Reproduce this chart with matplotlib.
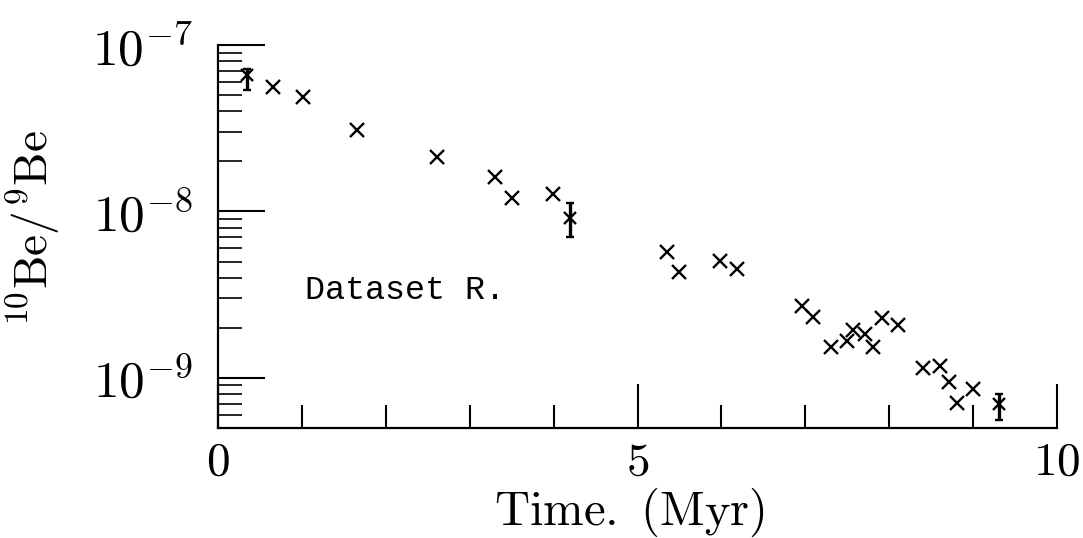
import matplotlib

matplotlib.use("Agg")
import matplotlib.pyplot as plt
from matplotlib.ticker import FixedLocator, LogLocator, NullFormatter

plt.rcParams["mathtext.fontset"] = "cm"
plt.rcParams["font.family"] = ["DejaVu Serif"]

# scatter points (Myr, 10Be/9Be)
times = [0.66, 1.01, 1.66, 2.61, 3.30, 3.50, 3.99,
         5.35, 5.49, 5.98, 6.19,
         6.96, 7.09, 7.31, 7.50, 7.57, 7.71, 7.81, 7.91, 8.10,
         8.40, 8.61, 8.71, 8.81, 9.00]
ratios = [5.58e-8, 4.86e-8, 3.08e-8, 2.11e-8, 1.60e-8, 1.20e-8, 1.28e-8,
          5.74e-9, 4.35e-9, 5.07e-9, 4.54e-9,
          2.72e-9, 2.33e-9, 1.54e-9, 1.67e-9, 1.95e-9, 1.84e-9, 1.54e-9, 2.30e-9, 2.09e-9,
          1.15e-9, 1.18e-9, 9.46e-10, 7.07e-10, 8.59e-10]

# points with error bars
err_times = [0.35, 4.20, 9.31]
err_ratios = [6.6e-8, 9.1e-9, 6.97e-10]
err_low = [5.4e-8, 7.0e-9, 5.6e-10]
err_high = [7.2e-8, 1.12e-8, 8.0e-10]

x_ticks = [0, 5, 10]
x_labels = ["0", "5", "10"]
y_ticks = [1e-9, 1e-8, 1e-7]
y_labels = [r"$10^{-9}$", r"$10^{-8}$", r"$10^{-7}$"]

fig = plt.figure(figsize=(10.83, 5.38), dpi=100)
ax = fig.add_axes([0.2013, 0.2045, 0.7747, 0.7119])

ax.plot(times, ratios, linestyle="none", marker="x", color="black",
        markersize=10, markeredgewidth=1.7)
lower = [r - lo for r, lo in zip(err_ratios, err_low)]
upper = [hi - r for r, hi in zip(err_ratios, err_high)]
ax.errorbar(err_times, err_ratios, yerr=[lower, upper], fmt="x", color="black",
            markersize=9, markeredgewidth=1.7, elinewidth=2.4, capsize=3, capthick=3.5)

ax.set_yscale("log")
ax.set_xlim(0, 10)
ax.set_ylim(5e-10, 1e-7)

ax.spines["top"].set_visible(False)
ax.spines["right"].set_visible(False)
ax.spines["left"].set_linewidth(1.6)
ax.spines["bottom"].set_linewidth(1.6)

ax.xaxis.set_major_locator(FixedLocator(x_ticks))
ax.xaxis.set_minor_locator(FixedLocator([1, 2, 3, 4, 6, 7, 8, 9]))
ax.set_xticklabels([rf"$\mathrm{{{t}}}$" for t in x_labels])
ax.yaxis.set_major_locator(FixedLocator(y_ticks))
ax.set_yticklabels(y_labels)
ax.yaxis.set_minor_locator(LogLocator(base=10, subs=range(2, 10), numticks=20))
ax.yaxis.set_minor_formatter(NullFormatter())

ax.tick_params(axis="x", which="major", direction="in", length=32, width=1.5,
               labelsize=34, pad=8)
ax.tick_params(axis="x", which="minor", direction="in", length=16.5, width=1.5)
ax.tick_params(axis="y", which="major", direction="in", length=34, width=1.5,
               labelsize=37, pad=18)
ax.tick_params(axis="y", which="minor", direction="in", length=17, width=1.2)

ax.set_xlabel(r"$\mathrm{Time.\ (Myr)}$", fontsize=35, va="center")
ax.xaxis.set_label_coords(0.49, -0.22)
ax.set_ylabel(r"$^{10}\mathrm{Be}/^{9}\mathrm{Be}$", fontsize=34)
ax.yaxis.set_label_coords(-0.186, 0.52)

ax.text(1.04, 2.99e-9, "Dataset R.", family="Liberation Mono", fontsize=24,
        va="baseline", ha="left")

fig.savefig("out.png", dpi=100)
